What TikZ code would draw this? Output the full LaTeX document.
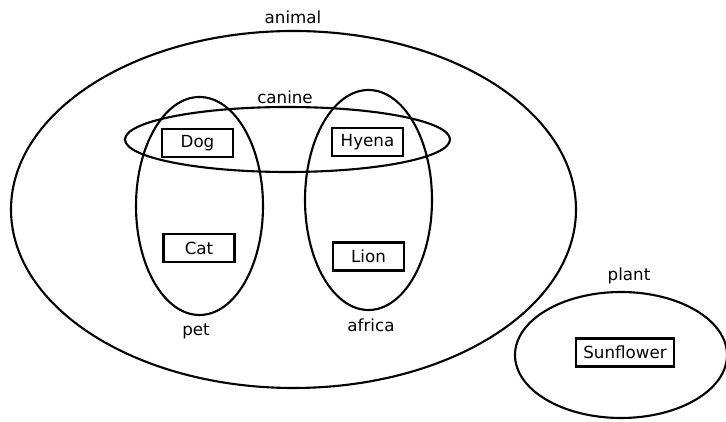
\documentclass[tikz,border=0pt]{standalone}
\usepackage{fontspec}
\setmainfont{DejaVu Sans}
\usetikzlibrary{positioning}
\tikzset{
  item/.style={draw, line width=1.2pt, minimum width=1.42cm, minimum height=0.56cm, inner xsep=4pt, inner ysep=1pt},
  set/.style={line width=1.2pt},
}
\begin{document}
\begin{tikzpicture}[font=\fontsize{9.5}{11}\selectfont]
\useasboundingbox (0,0) rectangle (14.52,-8.44);
% the sets
\draw[set] (5.87,-4.19) ellipse (5.65 and 3.57);
\draw[set] (5.75,-2.79) ellipse (3.25 and 0.65);
\draw[set] (3.99,-4.12) ellipse (1.27 and 2.18);
\draw[set] (7.37,-4.00) ellipse (1.27 and 2.20);
\draw[set] (12.42,-7.10) ellipse (2.12 and 1.26);
% set names
\node (animal) at (5.86,-0.34) {animal};
\node (canine) at (5.70,-1.94) {canine};
\node (pet) at (3.92,-6.62) {pet};
\node (africa) at (7.42,-6.50) {africa};
\node (plant) at (12.58,-5.52) {plant};
% members
\node[item] (dog) at (3.95,-2.86) {Dog};
\node[item] (hyena) at (7.35,-2.84) {Hyena};
\node[item] (cat) at (3.98,-4.96) {Cat};
\node[item] (lion) at (7.37,-5.13) {Lion};
\node[item] (sunflower) at (12.50,-7.05) {Sunflower};
\end{tikzpicture}
\end{document}
